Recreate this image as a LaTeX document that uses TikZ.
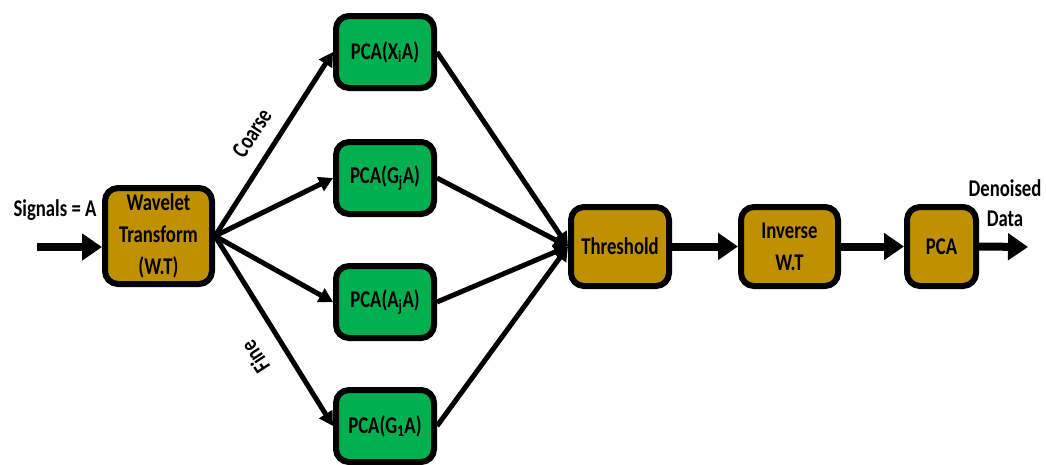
\documentclass[tikz,border=0pt]{standalone}
\usepackage{fontspec}
\setmainfont{Carlito}[FakeStretch=0.78]
\usepackage{xcolor}
\usepackage{tikz}
\usetikzlibrary{arrows.meta,positioning}
\definecolor{ouro}{HTML}{BF9000}
\definecolor{verde}{HTML}{00B050}
\tikzset{
    bloco/.style={
        rectangle,
        draw,
        line width=6pt,
        rounded corners=13pt,
        align=center,
        inner sep=0pt,
        font=\fontsize{24}{32}\selectfont\bfseries
    },
    etapa/.style={bloco, fill=ouro, minimum height=79pt},
    pca/.style={bloco, fill=verde, minimum width=98pt, minimum height=72pt},
    fluxo/.style={-{Triangle[length=20pt,width=26pt]}, line width=8pt},
    ramo/.style={-{Triangle[length=14pt,width=15pt]}, line width=5pt},
    rotulo/.style={align=center, font=\fontsize{24}{30}\selectfont\bfseries}
}

\begin{document}
\begin{tikzpicture}[x=1pt, y=-1pt]
        \useasboundingbox (0,0) rectangle (1046,464);

        \node[etapa, minimum width=107pt, minimum height=96pt] (wt)
            at (158.5,236) {Wavelet\\Transform\\(W.T)};

        \node[pca] (px) at (385,52) {PCA(X\textsubscript{i}A)};
        \node[pca] (pg) at (385,178) {PCA(G\textsubscript{j}A)};
        \node[pca] (pa) at (385,302) {PCA(A\textsubscript{j}A)};
        \node[pca] (p1) at (385,426) {PCA(G\textsubscript{1}A)};

        \node[etapa, minimum width=98pt] (thr) at (620,246.5) {Threshold};
        \node[etapa, minimum width=97pt, right=66pt of thr] (inv)
            {Inverse\\W.T};
        \node[etapa, minimum width=69pt, right=63pt of inv] (pcaf) {PCA};

        \node[rotulo] (sig) at (55,210) {Signals = A};
        \node[rotulo] (den) at (1005,203) {Denoised\\Data};
        \node[rotulo, rotate=57] (coarse) at (252,133) {Coarse};
        \node[rotulo, rotate=123] (fine) at (255,357) {Fine};

        \coordinate (ent) at (37,247);
        \coordinate (sai) at (1028,247);

        \draw[fluxo] (ent) -- (ent -| wt.west);
        \draw[ramo] (wt.east) -- (px.west);
        \draw[ramo] (wt.east) -- (pg.west);
        \draw[ramo] (wt.east) -- (pa.west);
        \draw[ramo] (wt.east) -- (p1.west);
        \draw[ramo] (px.east) -- (thr.west);
        \draw[ramo] (pg.east) -- (thr.west);
        \draw[ramo] (pa.east) -- (thr.west);
        \draw[ramo] (p1.east) -- (thr.west);
        \draw[fluxo] (thr) -- (inv);
        \draw[fluxo] (inv) -- (pcaf);
        \draw[fluxo] (pcaf.east) -- (sai);
    \end{tikzpicture}
\end{document}
